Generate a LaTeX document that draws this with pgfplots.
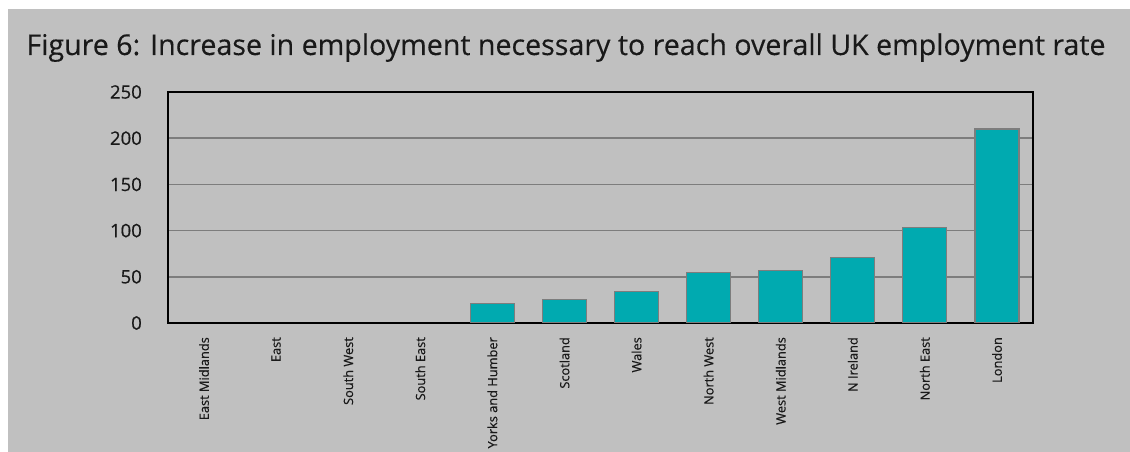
\documentclass[border=0pt]{standalone}
\usepackage{pgfplots}
\pgfplotsset{compat=1.18}
\usepackage{fontspec}
\setmainfont{Open Sans}
\definecolor{bg}{RGB}{192,192,192}
\definecolor{barteal}{RGB}{0,170,176}
\definecolor{edge}{RGB}{125,125,125}
\begin{document}
\begin{tikzpicture}[x=1pt,y=1pt]
\fill[white] (0,0) rectangle (1130,452);
\fill[bg] (8,0) rectangle (1130,443);
\useasboundingbox (0,0) rectangle (1130,452);
\node[anchor=base, inner sep=0pt, text=black!90, font=\fontsize{28.6}{32}\selectfont\addfontfeatures{FakeBold=0.3}] at (566,397) {Figure 6: Increase in employment necessary to reach overall UK employment rate};
\begin{axis}[
  at={(168pt,129pt)}, anchor=south west,
  width=865pt, height=231pt, scale only axis,
  xmin=-0.5, xmax=11.5, ymin=0, ymax=250,
  ytick={0,50,...,250},
  xtick={0,...,11},
  xticklabels={East Midlands,East,South West,South East,Yorks and Humber,Scotland,Wales,North West,West Midlands,N Ireland,North East,London},
  axis line style={black, line width=2pt},
  ymajorgrids, grid style={edge, line width=1.5pt},
  major tick length=0pt,
  /pgf/number format/assume math mode=true,
  yticklabel style={font=\fontsize{18.5}{20}\selectfont\addfontfeatures{FakeBold=0.6}, inner sep=0pt, xshift=-26pt, text=black!90},
  xticklabel style={font=\fontsize{12.8}{14}\selectfont\addfontfeatures{FakeBold=0.5}, rotate=90, anchor=east, inner sep=0pt, text=black!90},
  xticklabel shift=14pt,
  ybar, bar width=44pt,
]
% East Midlands, East, South West, South East: 0
\addplot[fill=barteal, draw=edge, line width=1.2pt] coordinates {
(4,21) (5,25) (6,34) (7,55) (8,57) (9,71) (10,103) (11,210)
};
\end{axis}
\end{tikzpicture}
\end{document}
